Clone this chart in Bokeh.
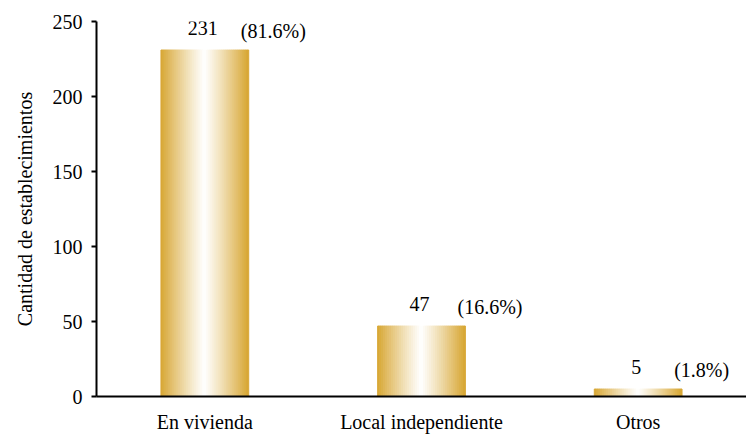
from bokeh.plotting import figure
from bokeh.models import ColumnDataSource, FactorRange, Range1d, LabelSet
from bokeh.transform import dodge
from bokeh.embed import file_html
from bokeh.resources import INLINE

categories = ["En vivienda", "Local independiente", "Otros"]
counts = [231, 47, 5]
percent_labels = ["(81.6%)", "(16.6%)", "(1.8%)"]
y_ticks = [0, 50, 100, 150, 200, 250]

FONT = "'Liberation Serif', 'Times New Roman', serif"
GOLD = (215, 166, 50)
BAR_W = 0.405
N_SLICES = 44

src = ColumnDataSource(dict(
    cat=categories,
    val=counts,
    txt=[str(v) for v in counts],
    pct=percent_labels,
))

p = figure(
    x_range=FactorRange(factors=categories),
    y_range=Range1d(0, 250),
    width=746, height=435,
    output_backend="svg", toolbar_location=None,
    min_border_left=96, min_border_top=21, min_border_bottom=37, min_border_right=0,
)
p.outline_line_color = None
p.background_fill_color = "white"
p.xgrid.visible = False
p.ygrid.visible = False

# gradient bars built from thin slices
sw = BAR_W / N_SLICES
for i in range(N_SLICES):
    c = (i + 0.5) / N_SLICES
    t = abs(c - 0.5) * 2
    f = t ** 1.1
    col = tuple(int(round(255 * (1 - f) + g * f)) for g in GOLD)
    hexcol = "#%02x%02x%02x" % col
    off = c * BAR_W - BAR_W / 2
    p.vbar(x=dodge("cat", off, range=p.x_range), top="val", bottom=0, width=sw,
           source=src, fill_color=hexcol, line_color=hexcol, line_width=1)

p.add_layout(LabelSet(x="cat", y="val", text="txt", source=src, text_align="center",
                      text_baseline="alphabetic", y_offset=15, x_offset=-2,
                      text_font=FONT, text_font_size="20px", text_color="black"))
p.add_layout(LabelSet(x="cat", y="val", text="pct", source=src, text_align="left",
                      text_baseline="alphabetic", y_offset=12, x_offset=36,
                      text_font=FONT, text_font_size="20px", text_color="black"))

p.yaxis.ticker = y_ticks
p.yaxis.axis_label = "Cantidad de establecimientos"
p.yaxis.axis_label_text_font = FONT
p.yaxis.axis_label_text_font_style = "normal"
p.yaxis.axis_label_text_font_size = "20px"
p.yaxis.axis_label_standoff = 14
p.yaxis.major_label_text_font = FONT
p.yaxis.major_label_text_font_size = "20px"
p.yaxis.major_label_standoff = 9
p.yaxis.major_tick_out = 5
p.yaxis.major_tick_in = 0
p.yaxis.minor_tick_out = 0
p.yaxis.minor_tick_in = 0
p.yaxis.axis_line_width = 2
p.yaxis.major_tick_line_width = 2

p.xaxis.major_label_text_font = FONT
p.xaxis.major_label_text_font_size = "20px"
p.xaxis.major_label_standoff = 14
p.xaxis.major_tick_out = 0
p.xaxis.major_tick_in = 0
p.xaxis.axis_line_width = 2

for ax in (p.xaxis, p.yaxis):
    ax.axis_line_color = "black"
    ax.major_label_text_color = "black"
    ax.axis_label_text_color = "black"

open("out.html", "w").write(file_html(p, INLINE))
